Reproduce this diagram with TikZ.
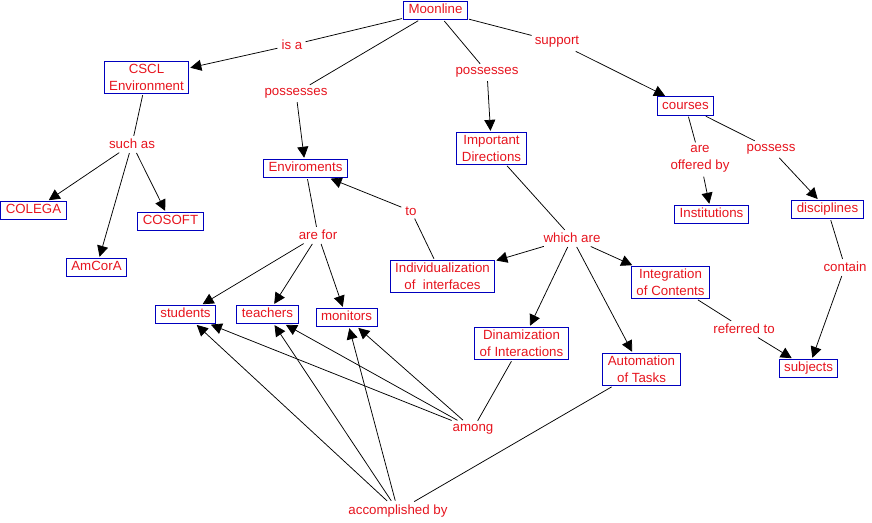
\documentclass[tikz,border=0pt]{standalone}
\usepackage{fontspec}
\setmainfont{Liberation Sans}
\usetikzlibrary{arrows.meta}
\definecolor{cblue}{RGB}{0,0,190}
\definecolor{cred}{RGB}{230,20,30}
\begin{document}
\begin{tikzpicture}[x=1pt,y=-1pt,
  lbl/.style={text=cred, font=\fontsize{13.3}{17}\selectfont},
  concept/.style={lbl, draw=cblue, line width=1pt, inner xsep=5pt, inner ysep=3pt, text height=9.5pt, text depth=3pt},
  concepttwo/.style={lbl, draw=cblue, line width=1pt, inner xsep=5pt, inner ysep=3pt, align=center},
  link/.style={lbl, inner sep=3pt, align=center},
  ln/.style={line width=0.75pt, shorten <=1pt},
  arr/.style={ln, -{Triangle[length=11pt,width=11pt]}, shorten >=1pt}]
\useasboundingbox (0,0) rectangle (872,522);
% concepts
\node[concept] (moon) at (435.5,10.5) {Moonline};
\node[concepttwo] (cscl) at (146.5,77.5) {CSCL\\Environment};
\node[concept] (env) at (305.5,168.5) {Enviroments};
\node[concepttwo] (imp) at (491.5,148.5) {Important\\Directions};
\node[concept] (cour) at (685.5,106) {courses};
\node[concept] (inst) at (711.5,214.5) {Institutions};
\node[concept] (disc) at (827.5,209.5) {disciplines};
\node[concept] (colega) at (33.5,210.5) {COLEGA};
\node[concept] (cosoft) at (170.5,221.5) {COSOFT};
\node[concept] (amcora) at (96.5,267.5) {AmCorA};
\node[concepttwo] (indiv) at (442.5,276.5) {Individualization\\of\ \ interfaces};
\node[concepttwo] (integ) at (670.5,282.5) {Integration\\of Contents};
\node[concept] (stud) at (185.5,314.5) {students};
\node[concept] (teach) at (267.5,314.5) {teachers};
\node[concept] (monit) at (346.5,317.5) {monitors};
\node[concepttwo] (dinam) at (521.5,343.5) {Dinamization\\of Interactions};
\node[concepttwo] (autom) at (641.5,369.5) {Automation\\of Tasks};
\node[concept] (subj) at (808.5,368.5) {subjects};
% linking phrases
\node[link] (isa) at (292,45) {is a};
\node[link] (possL) at (296,93) {possesses};
\node[link] (possR) at (487,72) {possesses};
\node[link] (supp) at (557,42) {support};
\node[link] (such) at (132,144) {such as};
\node[link] (arefor) at (318,235) {are for};
\node[link] (to) at (411,211) {to};
\node[link] (which) at (572,238) {which are};
\node[link] (offer) at (700,159) {are\\offered by};
\node[link] (possess) at (771,149) {possess};
\node[link] (contain) at (845,267) {contain};
\node[link] (refer) at (744,329) {referred to};
\node[link] (among) at (473,429) {among};
\node[link] (accomp) at (398,511) {accomplished by};
% connectors
\draw[ln] (moon) -- (isa); \draw[arr] (isa) -- (cscl);
\draw[ln] (moon) -- (possL); \draw[arr] (possL) -- (env);
\draw[ln] (moon) -- (possR); \draw[arr] (possR) -- (imp);
\draw[ln] (moon) -- (supp); \draw[arr] (supp) -- (cour);
\draw[ln] (cscl) -- (such);
\draw[arr] (such) -- (colega);
\draw[arr] (such) -- (cosoft);
\draw[arr] (such) -- (amcora);
\draw[ln] (env) -- (arefor);
\draw[arr] (arefor) -- (stud);
\draw[arr] (arefor) -- (teach);
\draw[arr] (arefor) -- (monit);
\draw[ln] (indiv) -- (to); \draw[arr] (to) -- (env);
\draw[ln] (imp) -- (which);
\draw[arr] (which) -- (indiv);
\draw[arr] (which) -- (integ);
\draw[arr] (which) -- (dinam);
\draw[arr] (which) -- (autom);
\draw[ln] (cour) -- (offer); \draw[arr] (offer) -- (inst);
\draw[ln] (cour) -- (possess); \draw[arr] (possess) -- (disc);
\draw[ln] (disc) -- (contain); \draw[arr] (contain) -- (subj);
\draw[ln] (integ) -- (refer); \draw[arr] (refer) -- (subj);
\draw[ln] (dinam) -- (among);
\draw[arr] (among) -- (stud);
\draw[arr] (among) -- (teach);
\draw[arr] (among) -- (monit);
\draw[ln] (autom) -- (accomp);
\draw[arr] (accomp) -- (stud);
\draw[arr] (accomp) -- (teach);
\draw[arr] (accomp) -- (monit);
\end{tikzpicture}
\end{document}
